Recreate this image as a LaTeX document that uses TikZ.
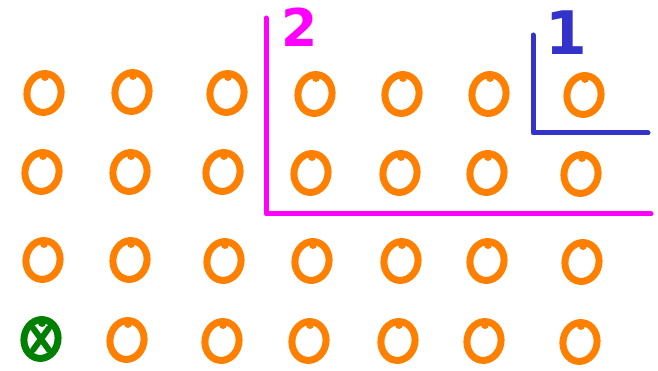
\documentclass[tikz,border=0pt]{standalone}
\usepackage{fontspec}
\newfontfamily\digfont{DejaVu Sans}
\usetikzlibrary{shapes.geometric}
\definecolor{ocol}{HTML}{FF8000}
\definecolor{gcol}{HTML}{008000}
\definecolor{mcol}{HTML}{FF00FF}
\definecolor{bcol}{HTML}{3333CC}
\tikzset{
  ring/.style={ellipse, draw=ocol, line width=7pt, minimum width=34pt, minimum height=39pt, inner sep=0pt, rotate=-10},
  xring/.style={ring, draw=gcol},
  notch/.style={fill=#1, circle, inner sep=0pt, minimum size=8pt},
  axis/.style={line width=5pt, line cap=round, line join=round},
  dig/.style={font=\digfont, inner sep=0pt}
}
\begin{document}
\begin{tikzpicture}[x=1pt,y=-1pt]
\useasboundingbox (0,0) rectangle (658,371);
\foreach \n/\x/\y in {a1/44/93, a2/132/92, a3/227/93, a4/315/94, a5/402/94, a6/489/94, a7/584/95,
                      b1/42/172, b2/130/172, b3/223/172, b4/311/173, b5/400/173, b6/487/173, b7/581/174,
                      c1/43/260, c2/130/260, c3/224/261, c4/312/261, c5/401/261, c6/487/261, c7/582/262,
                      b8/127/340, c8/222/341, d4/309/341, d5/398/341, d6/484/341, d7/580/342}{
  \node[ring] (\n) at (\x,\y) {};
  \node[notch=ocol] at (\x+1,\y-16) {};
}
\node[xring] (x) at (41,339) {};
\draw[gcol, line width=6pt, line cap=round] (x.center)++(-8,-11) -- ++(16,22);
\draw[gcol, line width=6pt, line cap=round] (x.center)++(8,-11) -- ++(-16,22);
\node[notch=gcol] at (42,323) {};
% magenta L
\coordinate (m1) at (266,18);
\coordinate (m2) at (266,214);
\coordinate (m3) at (651,214);
\draw[axis, mcol] (m1) -- (m2) -- (m3);
\node[dig, text=mcol, font=\digfont\bfseries\fontsize{52}{52}\selectfont] (two) at (300,27) {2};
% blue L
\coordinate (l1) at (533,35);
\coordinate (l2) at (533,133);
\coordinate (l3) at (648,133);
\draw[axis, bcol] (l1) -- (l2) -- (l3);
\node[dig, text=bcol, font=\digfont\bfseries\fontsize{60}{60}\selectfont] (one) at (566,33) {1};
\end{tikzpicture}
\end{document}
